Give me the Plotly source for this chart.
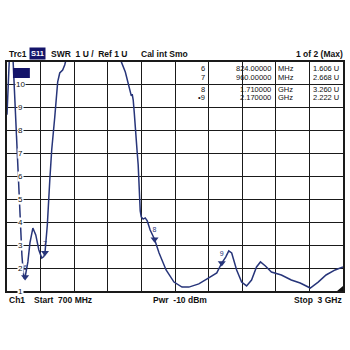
import plotly.graph_objects as go

# ---- data (frequency in MHz, SWR in U) ----
freq_mhz = [700, 708, 716, 725, 735, 741, 754, 765, 775, 788, 802, 810, 817, 824, 830,
            843, 857, 877, 897, 918, 938, 952, 960, 976, 993, 1006, 1027, 1047, 1061,
            1081, 1095, 1108, 1200, 1350, 1450, 1483, 1510, 1537, 1551, 1557, 1564,
            1571, 1578, 1585, 1591, 1598, 1605, 1612, 1619, 1632, 1646, 1660, 1680,
            1710, 1741, 1789, 1843, 1898, 1945, 2013, 2081, 2136, 2170, 2197, 2218,
            2238, 2272, 2306, 2340, 2374, 2408, 2435, 2469, 2510, 2578, 2646, 2707,
            2776, 2830, 2884, 2946, 3000]
swr = [8.7, 9.8, 11.2, 12.5, 12.0, 11.1, 9.12, 7.59, 5.98, 4.32, 2.57, 1.9, 1.55, 1.606, 1.85,
       2.27, 3.1, 3.75, 3.45, 2.79, 2.44, 2.5, 2.668, 3.88, 5.85, 7.16, 8.6, 10.13, 10.52,
       10.65, 10.87, 11.2, 13.0, 14.0, 13.0, 11.0, 10.56, 9.86, 9.52, 9.6, 9.34,
       8.8, 8.0, 7.25, 7.07, 6.5, 5.2, 4.5, 4.23, 4.14, 4.19, 4.06, 3.66,
       3.26, 2.66, 1.92, 1.39, 1.17, 1.17, 1.31, 1.57, 1.79, 2.222, 2.48, 2.75,
       2.66, 1.92, 1.39, 1.22, 1.48, 2.05, 2.27, 2.09, 1.83, 1.7, 1.48, 1.35,
       1.13, 1.39, 1.7, 1.92, 2.05]

marker_ids = ["6", "7", "8", "9"]
marker_freq_mhz = [824, 960, 1710, 2170]
marker_swr = [1.606, 2.668, 3.260, 2.222]
marker_stim = ["824.00000", "960.00000", "1.710000", "2.170000"]
marker_unit = ["MHz", "MHz", "GHz", "GHz"]
marker_resp = ["1.606 U", "2.668 U", "3.260 U", "2.222 U"]
marker_tag = ["6", "7", "8", "\u20229"]

y_ticks = [1, 2, 3, 4, 5, 6, 7, 8, 9, 10]
f_start, f_stop = 700, 3000
y_min, y_max = 1, 11

# ---- layout geometry (pixels) ----
W = H = 350
L, R, T, B = 7, 5, 62, 59
PW, PH = W - L - R, H - T - B


def px(x):
    return (x - L) / PW


def py(y):
    return (H - B - y) / PH


TRACE = "#27357a"
INK = "#111111"
FONT = "Liberation Sans, Arial, sans-serif"

fig = go.Figure()
fig.add_trace(go.Scatter(x=freq_mhz, y=swr, mode="lines",
                         line=dict(color=TRACE, width=1.5), hoverinfo="skip"))
fig.add_trace(go.Scatter(x=marker_freq_mhz, y=marker_swr, mode="markers+text",
                         text=marker_ids, textposition="top center",
                         textfont=dict(size=7, color=TRACE, family=FONT),
                         marker=dict(symbol="triangle-down", size=7, color=TRACE),
                         cliponaxis=False, hoverinfo="skip"))

fig.update_layout(
    width=W, height=H, margin=dict(l=L, r=R, t=T, b=B),
    paper_bgcolor="white", plot_bgcolor="white", showlegend=False,
    font=dict(family=FONT, size=9, color=INK),
    xaxis=dict(range=[f_start, f_stop], dtick=(f_stop - f_start) / 10, tick0=f_start,
               showticklabels=False, ticks="", showgrid=True, gridcolor="#1a1a1a",
               gridwidth=1.2, zeroline=False, showline=True, linecolor="#1a1a1a",
               linewidth=1.5, mirror=True, fixedrange=True),
    yaxis=dict(range=[y_min, y_max], dtick=1, tick0=1, showticklabels=False, ticks="",
               showgrid=True, gridcolor="#1a1a1a", gridwidth=1.2, zeroline=False,
               showline=True, linecolor="#1a1a1a", linewidth=1.5, mirror=True,
               fixedrange=True),
)

ann = []
# y tick labels inside the plot
for v in y_ticks:
    ann.append(dict(x=px(21), y=v, xref="paper", yref="y", text=str(v), showarrow=False,
                    font=dict(size=8, color=INK), bgcolor="white", borderpad=0,
                    xanchor="center", yanchor="middle"))

# header
header = [("Trc1", 7), ("SWR  1 U /  Ref 1 U", 49), ("Cal int Smo", 140)]
for t, x in header:
    ann.append(dict(x=px(x), y=py(54), xref="paper", yref="paper", text="<b>" + t + "</b>",
                    showarrow=False, xanchor="left", yanchor="middle",
                    font=dict(size=8.5, color=INK)))
ann.append(dict(x=px(347), y=py(54), xref="paper", yref="paper", text="<b>1 of 2 (Max)</b>",
                showarrow=False, xanchor="right", yanchor="middle", font=dict(size=8.5, color=INK)))
ann.append(dict(x=px(38), y=py(54), xref="paper", yref="paper", text="<b>S11</b>",
                showarrow=False, xanchor="center", yanchor="middle",
                font=dict(size=7.5, color="white"), bgcolor="#14146a", borderpad=1))

# marker table
rows_y = [69, 77.5, 90, 97.5]
for i in range(len(marker_ids)):
    yy = py(rows_y[i])
    ann.append(dict(x=px(208), y=yy, xref="paper", yref="paper", text=marker_tag[i],
                    showarrow=False, xanchor="right", yanchor="middle",
                    font=dict(size=7.5, color=INK)))
    ann.append(dict(x=px(275), y=yy, xref="paper", yref="paper", text=marker_stim[i],
                    showarrow=False, xanchor="right", yanchor="middle",
                    font=dict(size=7.5, color=INK)))
    ann.append(dict(x=px(278), y=yy, xref="paper", yref="paper", text=marker_unit[i],
                    showarrow=False, xanchor="left", yanchor="middle",
                    font=dict(size=7.5, color=INK)))
    ann.append(dict(x=px(343), y=yy, xref="paper", yref="paper", text=marker_resp[i],
                    showarrow=False, xanchor="right", yanchor="middle",
                    font=dict(size=7.5, color=INK)))

# footer
footer = [("Ch1", 7, "left"), ("Start  700 MHz", 32, "left"), ("Pwr  -10 dBm", 152, "left"),
          ("Stop  3 GHz", 346, "right")]
for t, x, a in footer:
    ann.append(dict(x=px(x), y=py(300), xref="paper", yref="paper", text="<b>" + t + "</b>",
                    showarrow=False, xanchor=a, yanchor="middle", font=dict(size=8.5, color=INK)))

fig.update_layout(annotations=ann)

# active-trace box and corner mark
fig.add_shape(type="rect", xref="paper", yref="paper", x0=px(13), x1=px(30),
              y0=py(78), y1=py(68), fillcolor="#14146a", line=dict(width=0))
fig.add_shape(type="path", xref="paper", yref="paper",
              path=f"M {px(345)} {py(291)} L {px(339)} {py(291)} L {px(345)} {py(286)} Z",
              fillcolor="#111111", line=dict(width=0))

fig.write_html("out.html")
